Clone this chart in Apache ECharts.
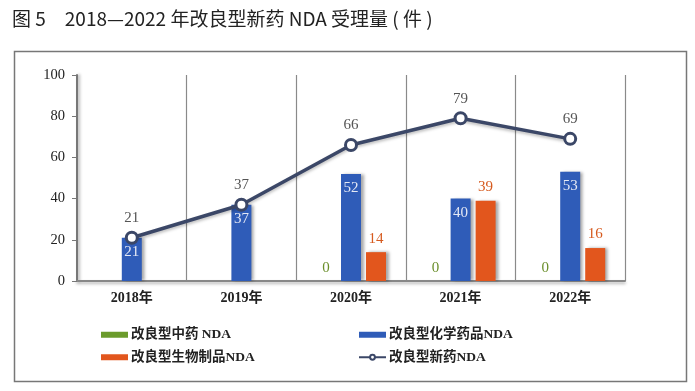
<!DOCTYPE html>
<html>
<head>
<meta charset="utf-8">
<script src="https://cdn.jsdelivr.net/npm/echarts@6/dist/echarts.min.js"></script>
<style>html,body{margin:0;padding:0;background:#fff;}#c{width:695px;height:391px;}</style>
</head>
<body>
<div id="c"></div>
<script>
const categories = ['2018年', '2019年', '2020年', '2021年', '2022年'];
const seriesNames = ['改良型中药 NDA', '改良型化学药品NDA', '改良型生物制品NDA', '改良型新药NDA'];
const tcmValues = [null, null, 0, 0, 0];
const chemValues = [21, 37, 52, 40, 53];
const bioValues = [null, null, 14, 39, 16];
const totalValues = [21, 37, 66, 79, 69];
const yMin = 0, yMax = 100, yInterval = 20;
const titleText = '图 5　2018—2022 年改良型新药 NDA 受理量 ( 件 )';

const serif = '"Liberation Serif", "DejaVu Serif", "Noto Sans CJK SC", serif';
const C_GREEN = '#6b9b2c', C_BLUE = '#2f5cb8', C_ORANGE = '#e2561d', C_LINE = '#3b4767';

const chart = echarts.init(document.getElementById('c'), null, {renderer: 'canvas'});
const barShadow = {shadowColor: 'rgba(0,0,0,0.35)', shadowBlur: 3, shadowOffsetX: 3, shadowOffsetY: 0};
const legendText = {fontFamily: serif, fontSize: 13.5, fontWeight: 'bold', color: '#222', padding: [0, 0, 0, -2]};
chart.setOption({
  animation: false,
  backgroundColor: '#ffffff',
  title: {
    text: titleText, left: 12, top: 9, padding: 0,
    textStyle: {fontFamily: '"Noto Sans CJK SC", sans-serif', fontSize: 19, fontWeight: 'normal', color: '#222'}
  },
  graphic: [{
    type: 'rect', left: 12, top: 49, silent: true,
    shape: {width: 672, height: 330},
    style: {fill: 'none', stroke: '#777', lineWidth: 1.5}
  }],
  legend: [{
    left: 101, top: 328, padding: 0, orient: 'vertical', itemGap: 9,
    itemWidth: 27, itemHeight: 6,
    data: [{name: seriesNames[0], icon: 'rect'}, {name: seriesNames[2], icon: 'rect'}],
    textStyle: legendText
  }, {
    left: 358, top: 328, padding: 0, orient: 'vertical', itemGap: 9,
    itemWidth: 27, itemHeight: 6,
    data: [{name: seriesNames[1], icon: 'rect'}, {name: seriesNames[3]}],
    textStyle: legendText
  }],
  grid: {left: 77, right: 70, top: 75, bottom: 110},
  xAxis: {
    type: 'category', data: categories, boundaryGap: true,
    axisLine: {lineStyle: {color: '#888', width: 2, shadowColor: 'rgba(0,0,0,0.3)', shadowBlur: 3, shadowOffsetY: 2}},
    axisTick: {show: false},
    splitLine: {show: true, lineStyle: {color: '#8a8a8a', width: 1.2}},
    axisLabel: {fontFamily: serif, fontSize: 14, fontWeight: 'bold', color: '#222', margin: 10}
  },
  yAxis: {
    type: 'value', min: yMin, max: yMax, interval: yInterval,
    axisLine: {show: true, lineStyle: {color: '#777', width: 2, shadowColor: 'rgba(0,0,0,0.3)', shadowBlur: 3, shadowOffsetX: 2}},
    axisTick: {show: true, length: 5, lineStyle: {color: '#777'}},
    splitLine: {show: false},
    axisLabel: {fontFamily: serif, fontSize: 14.5, color: '#222', margin: 12}
  },
  series: [{
    name: seriesNames[0], type: 'bar', data: tcmValues, barWidth: 20, barGap: '25%',
    itemStyle: Object.assign({color: C_GREEN}, barShadow),
    label: {show: true, position: 'top', distance: 5, color: '#6b8f2c', fontFamily: serif, fontSize: 15}
  }, {
    name: seriesNames[1], type: 'bar', data: chemValues, barWidth: 20, barGap: '25%',
    itemStyle: Object.assign({color: C_BLUE}, barShadow),
    label: {show: true, position: 'insideTop', distance: 7, color: '#e4e8f4', fontFamily: serif, fontSize: 15}
  }, {
    name: seriesNames[2], type: 'bar', data: bioValues, barWidth: 20, barGap: '25%',
    itemStyle: Object.assign({color: C_ORANGE}, barShadow),
    label: {show: true, position: 'top', distance: 6, color: '#d65a1e', fontFamily: serif, fontSize: 15}
  }, {
    name: seriesNames[3], type: 'line', data: totalValues, z: 5,
    symbol: 'circle', symbolSize: 11,
    lineStyle: {color: C_LINE, width: 3.5, shadowColor: 'rgba(0,0,0,0.25)', shadowBlur: 3, shadowOffsetY: 2},
    itemStyle: {color: '#fff', borderColor: C_LINE, borderWidth: 3},
    label: {show: true, position: 'top', distance: 5, color: '#555', fontFamily: serif, fontSize: 15}
  }]
});
</script>
</body>
</html>
